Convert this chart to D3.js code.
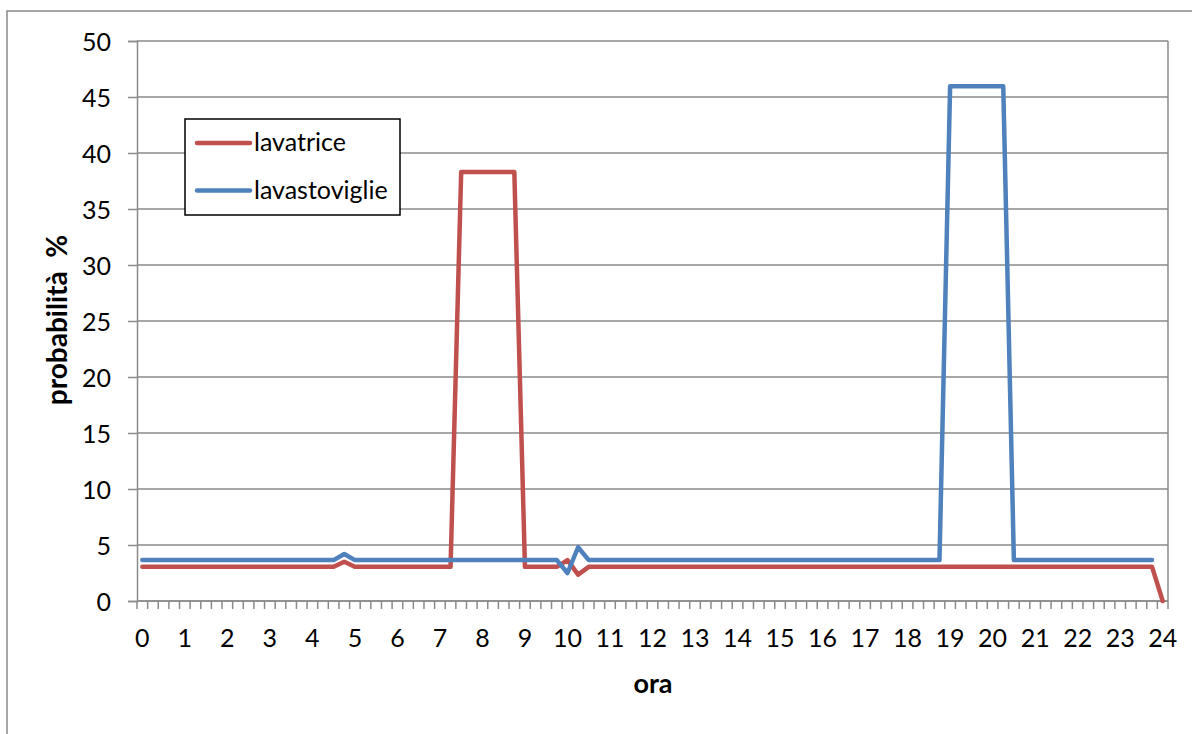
<!DOCTYPE html>
<html><head><meta charset="utf-8">
<script src="https://cdn.jsdelivr.net/npm/d3@7"></script>
<style>body{margin:0;background:#fff}svg{display:block}text{font-family:Lato,"Open Sans",sans-serif;fill:#000}</style>
</head><body>
<script>
const hourLabels = ["0","1","2","3","4","5","6","7","8","9","10","11","12","13","14","15","16","17","18","19","20","21","22","23","24"];
const yTicks = [0,5,10,15,20,25,30,35,40,45,50];
const seriesNames = ["lavatrice","lavastoviglie"];
const seriesColors = ["#C0504D","#4F81BD"];
// values every 15 minutes (0, 0.25, ..., 24)
const lavatrice = [
 3.05,3.05,3.05,3.05,3.05,3.05,3.05,3.05,3.05,3.05,3.05,3.05,3.05,3.05,3.05,3.05,3.05,3.05,3.05,
 3.5,
 3.05,3.05,3.05,3.05,3.05,3.05,3.05,3.05,3.05,3.05,
 38.3,38.3,38.3,38.3,38.3,38.3,
 3.05,3.05,3.05,3.05,
 3.65,2.35,
 3.05,3.05,3.05,3.05,3.05,3.05,3.05,3.05,3.05,3.05,3.05,3.05,3.05,3.05,3.05,3.05,3.05,3.05,
 3.05,3.05,3.05,3.05,3.05,3.05,3.05,3.05,3.05,3.05,3.05,3.05,3.05,3.05,3.05,3.05,3.05,3.05,
 3.05,3.05,3.05,3.05,3.05,3.05,3.05,3.05,3.05,3.05,3.05,3.05,3.05,3.05,3.05,3.05,3.05,3.05,
 0
];
const lavastoviglie = [
 3.65,3.65,3.65,3.65,3.65,3.65,3.65,3.65,3.65,3.65,3.65,3.65,3.65,3.65,3.65,3.65,3.65,3.65,3.65,
 4.2,
 3.65,3.65,3.65,3.65,3.65,3.65,3.65,3.65,3.65,3.65,3.65,3.65,3.65,3.65,3.65,3.65,3.65,3.65,3.65,3.65,
 2.5,4.8,
 3.65,3.65,3.65,3.65,3.65,3.65,3.65,3.65,3.65,3.65,3.65,3.65,3.65,3.65,3.65,3.65,3.65,
 3.65,3.65,3.65,3.65,3.65,3.65,3.65,3.65,3.65,3.65,3.65,3.65,3.65,3.65,3.65,3.65,3.65,
 45.95,45.95,45.95,45.95,45.95,45.95,
 3.65,3.65,3.65,3.65,3.65,3.65,3.65,3.65,3.65,3.65,3.65,3.65,3.65,3.65
];
const nCat = 97;

const W = 1192, H = 734;
const L = 137, R = 1168, T = 41, B = 601;
const svg = d3.select("body").append("svg").attr("width", W).attr("height", H);
svg.append("rect").attr("x",7).attr("y",11).attr("width",1300).attr("height",900)
  .attr("fill","#fff").attr("stroke","#898989").attr("stroke-width",1.5);

const x = d3.scaleBand().domain(d3.range(nCat)).range([L, R]).padding(0);
const y = d3.scaleLinear().domain([0, 50]).range([B, T]);
const cx = i => x(i) + x.bandwidth() / 2;
const gridColor = "#8a8a8a";

// gridlines
svg.append("g").selectAll("line").data(yTicks).join("line")
  .attr("x1", L).attr("x2", R).attr("y1", d => y(d)).attr("y2", d => y(d))
  .attr("stroke", gridColor).attr("stroke-width", 1.5);
// right frame
svg.append("line").attr("x1", R).attr("x2", R).attr("y1", T).attr("y2", B)
  .attr("stroke", gridColor).attr("stroke-width", 1.5);

// y axis
const yAxis = d3.axisLeft(y).tickValues(yTicks).tickSize(9).tickPadding(17);
const gy = svg.append("g").attr("transform", `translate(${L},0)`).call(yAxis);
gy.select(".domain").attr("stroke", gridColor).attr("stroke-width", 1.5);
gy.selectAll(".tick line").attr("stroke", gridColor).attr("stroke-width", 1.5);
gy.selectAll(".tick text").style("font-family","Lato").style("font-size","25px").attr("dy","0.36em").attr("fill","#000");

// x axis: category boundaries as ticks
const bounds = d3.range(nCat + 1).map(i => L + i * x.bandwidth());
svg.append("line").attr("x1", L).attr("x2", R).attr("y1", B).attr("y2", B)
  .attr("stroke", gridColor).attr("stroke-width", 1.5);
svg.append("g").selectAll("line").data(bounds).join("line")
  .attr("x1", d => d).attr("x2", d => d).attr("y1", B).attr("y2", B + 8)
  .attr("stroke", gridColor).attr("stroke-width", 1.5);
svg.append("g").selectAll("text").data(hourLabels).join("text")
  .attr("x", (d, k) => cx(k * 4)).attr("y", 647)
  .attr("text-anchor", "middle").style("font-size", "25px").text(d => d);

// lines
const line = d3.line().x((d, i) => cx(i)).y(d => y(d));
[lavatrice, lavastoviglie].forEach((s, k) => {
  svg.append("path").datum(s).attr("d", line).attr("fill", "none")
    .attr("stroke", seriesColors[k]).attr("stroke-width", 4.5)
    .attr("stroke-linejoin", "round").attr("stroke-linecap", "round");
});

// axis titles
svg.append("text").attr("x", 653).attr("y", 693).attr("text-anchor", "middle")
  .style("font-size", "27px").style("font-weight", "bold").text("ora");
svg.append("text").attr("transform", "translate(67,320) rotate(-90)").attr("text-anchor", "middle")
  .style("font-size", "28px").style("font-weight", "bold").attr("xml:space","preserve").text("probabilità  %");

// legend
const lg = svg.append("g");
lg.append("rect").attr("x", 185).attr("y", 119).attr("width", 215).attr("height", 96)
  .attr("fill", "#fff").attr("stroke", "#000").attr("stroke-width", 1.5);
seriesNames.forEach((n, k) => {
  const ly = 143 + k * 47.5;
  lg.append("line").attr("x1", 197).attr("x2", 250).attr("y1", ly).attr("y2", ly)
    .attr("stroke", seriesColors[k]).attr("stroke-width", 4.5).attr("stroke-linecap", "round");
  lg.append("text").attr("x", 254).attr("y", ly + 8).style("font-size", "25px").text(n);
});
</script>
</body></html>
